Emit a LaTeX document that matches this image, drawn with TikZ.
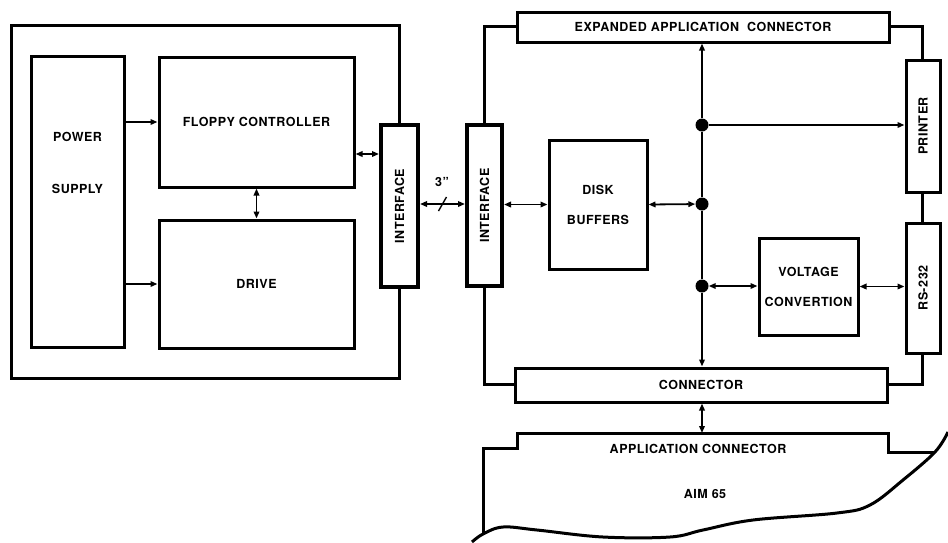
\documentclass[tikz,border=0pt]{standalone}
\usepackage{fontspec}
\setmainfont{TeX Gyre Heros}[LetterSpace=4]
\usepackage{graphicx}
\usetikzlibrary{arrows.meta,calc}

\begin{document}
\begin{tikzpicture}[x=1pt,y=-1pt,
  every node/.style={align=center,font=\fontsize{12.5}{15}\selectfont\bfseries},
  blk/.style={draw,line width=3pt,fill=white,inner sep=0pt},
  port/.style={blk,line width=4pt},
  frame/.style={line width=3pt},
  link/.style={line width=1.8pt,{Triangle[length=7pt,width=5.5pt]}-{Triangle[length=7pt,width=5.5pt]}},
  feed/.style={line width=1.8pt,-{Triangle[length=7pt,width=5.5pt]}},
  dot/.style={circle,fill,inner sep=0pt,minimum size=13pt}]
\useasboundingbox (0,0) rectangle (948,542);
% frames
\draw[frame] (11,25) rectangle (399,378);
\draw[frame] (484,26) rectangle (922,384);
% disk unit
\node[blk,minimum width=93,minimum height=291] (power) at (77.5,201.5) {};
\node (powertxt) at (77.5,163) {POWER\\[37pt]SUPPLY};
\node[blk,minimum width=195,minimum height=130] (fdc) at (256.5,122) {FLOPPY CONTROLLER};
\node[blk,minimum width=195,minimum height=128] (drive) at (256.5,284) {DRIVE};
\node[port,minimum width=37,minimum height=162] (ifl) at (399.5,206) {\rotatebox{90}{INTERFACE}};
\node[port,minimum width=35,minimum height=161] (ifr) at (484.5,205.5) {\rotatebox{90}{INTERFACE}};
\node (len) at (442,182) {3"};
% buffer board
\node[blk,minimum width=372,minimum height=30] (eac) at (703,27) {EXPANDED APPLICATION\hspace{4pt} CONNECTOR};
\node[blk,minimum width=34,minimum height=132] (prn) at (923,126) {\rotatebox{90}{PRINTER}};
\node[blk,minimum width=34,minimum height=130] (rs) at (923,288) {\rotatebox{90}{RS-232}};
\node[blk,minimum width=98,minimum height=129] (buf) at (598,204.5) {DISK\\[15pt]BUFFERS};
\node[blk,minimum width=99,minimum height=97] (volt) at (808.5,286.5) {VOLTAGE\\[15pt]CONVERTION};
\node[blk,minimum width=372,minimum height=34] (conn) at (701,385) {CONNECTOR};
\node[dot] (d1) at (702,125) {};
\node[dot] (d2) at (702,204) {};
\node[dot] (d3) at (702,286) {};
% links
\draw[feed] (power.east |- fdc.west) -- (fdc.west);
\draw[feed] (power.east |- drive.west) -- (drive.west);
\draw[link] (fdc.south) -- (drive.north);
\draw[link] (fdc.east |- 0,154) -- (ifl.west |- 0,154);
\draw[link] (ifl.east |- 0,204) -- coordinate (cut) (ifr.west |- 0,204);
\draw[line width=1.4pt] ($(cut)+(-4,7)$) -- ($(cut)+(4,-7)$);
\draw[link] (ifr.east |- buf.west) -- (buf.west);
\draw[link] (buf.east) -- (d2);
\draw[feed] (d1) -- (d1 |- eac.south);
\draw[line width=1.8pt] (d1) -- (d2) -- (d3);
\draw[feed] (d3) -- (d3 |- conn.north);
\draw[feed] (d1) -- (prn.west |- d1);
\draw[link] (d3) -- (volt.west |- d3);
\draw[link] (volt.east) -- (rs.west |- volt.east);
% AIM 65 board
\coordinate (aim) at (702,433);
\draw[link] (conn.south -| aim) -- (aim);
\draw[frame] (483,534) -- (483,448) -- (517,448) -- (517,433) -- (888,433) -- (888,452) -- (935,452);
\draw[frame] plot[smooth,tension=0.6] coordinates {(948,432) (935,452) (903,480) (870,505) (837,513)
  (753,520) (703,530) (670,537) (603,537) (537,530) (503,527) (483,534) (472,542)};
\node (act) at (698,449) {APPLICATION CONNECTOR};
\node (aimtxt) at (705,494) {AIM 65};
\end{tikzpicture}
\end{document}
